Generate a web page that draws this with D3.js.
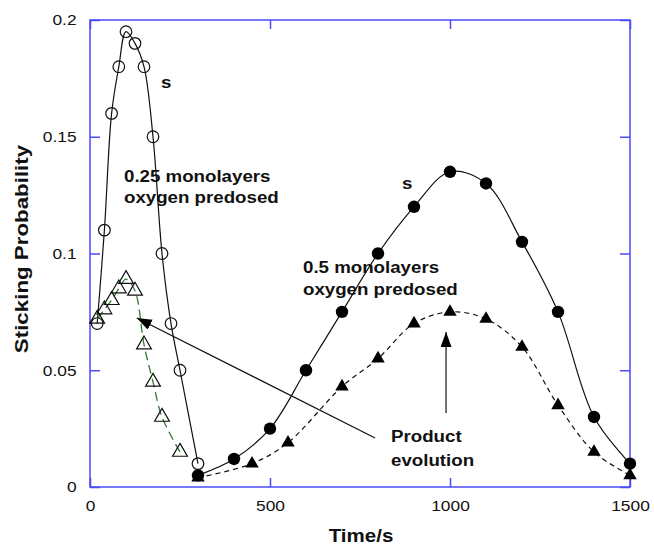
<!DOCTYPE html>
<html><head><meta charset="utf-8">
<script src="https://cdn.jsdelivr.net/npm/d3@7"></script>
<style>body{margin:0;background:#fff}svg{display:block}text{font-family:Arial,"Liberation Sans",sans-serif}</style>
</head><body>
<script>
// ---- data ----
const xTicks = [0, 500, 1000, 1500];
const yTicks = [0, 0.05, 0.1, 0.15, 0.2];
const yTickLabels = ["0", "0.05", "0.1", "0.15", "0.2"];

// 0.25 ML oxygen predosed: sticking probability (open circles)
const lowTime = [20, 40, 60, 80, 100, 125, 150, 175, 200, 225, 250, 300];
const lowStick = [0.07, 0.11, 0.16, 0.18, 0.195, 0.19, 0.18, 0.15, 0.10, 0.07, 0.05, 0.01];
// 0.25 ML product evolution (open triangles)
const lowProdTime = [20, 40, 60, 80, 100, 125, 150, 175, 200, 250];
const lowProd = [0.072, 0.076, 0.080, 0.085, 0.089, 0.084, 0.061, 0.045, 0.030, 0.015];

// 0.5 ML oxygen predosed: sticking probability (filled circles)
const highTime = [300, 400, 500, 600, 700, 800, 900, 1000, 1100, 1200, 1300, 1400, 1500];
const highStick = [0.005, 0.012, 0.025, 0.05, 0.075, 0.10, 0.12, 0.135, 0.13, 0.105, 0.075, 0.03, 0.01];
// 0.5 ML product evolution (filled triangles)
const highProdTime = [300, 450, 550, 700, 800, 900, 1000, 1100, 1200, 1300, 1400, 1500];
const highProd = [0.004, 0.01, 0.019, 0.043, 0.055, 0.07, 0.075, 0.072, 0.06, 0.035, 0.015, 0.005];

// annotation arrows [x1,y1,x2,y2] in data units (tail -> tip)
const arrows = [[792, 0.021, 130, 0.0724], [989, 0.0317, 989, 0.0664]];

// ---- layout ----
const W = 654, H = 545;
const L = 90, R = 630, T = 20, B = 487;
const SX = 1.12;
const svg = d3.select("body").append("svg").attr("width", W).attr("height", H);
const x = d3.scaleLinear().domain([0, 1500]).range([L, R]);
const y = d3.scaleLinear().domain([0, 0.2]).range([B, T]);
const axisColor = "#4b4bf5";

// frame
svg.append("rect").attr("x", L).attr("y", T).attr("width", R - L).attr("height", B - T)
  .attr("fill", "none").attr("stroke", axisColor).attr("stroke-width", 1.5);

// axes with inward ticks
function styleAxis(g, hideText) {
  g.select(".domain").remove();
  g.selectAll(".tick line").attr("stroke", axisColor).attr("stroke-width", 1.5);
  if (hideText) g.selectAll(".tick text").remove();
  else g.selectAll(".tick text").attr("fill", "#111").style("font-size", "15.5px");
}
const gx = svg.append("g").attr("transform", `translate(0,${B})`)
  .call(d3.axisBottom(x).tickValues(xTicks).tickSizeInner(-9).tickSizeOuter(0).tickPadding(13).tickFormat(d3.format("d")));
styleAxis(gx, false);
gx.selectAll(".tick text").attr("transform", `scale(${SX},1)`);
const gxt = svg.append("g").attr("transform", `translate(0,${T})`)
  .call(d3.axisTop(x).tickValues(xTicks).tickSizeInner(-9).tickSizeOuter(0));
styleAxis(gxt, true);
const gy = svg.append("g").attr("transform", `translate(${L},0)`)
  .call(d3.axisLeft(y).tickValues(yTicks).tickSizeInner(-10).tickSizeOuter(0).tickPadding(12)
    .tickFormat((d, i) => yTickLabels[i]));
styleAxis(gy, false);
gy.selectAll(".tick text").attr("transform", `scale(${SX},1)`);
const gyr = svg.append("g").attr("transform", `translate(${R},0)`)
  .call(d3.axisRight(y).tickValues(yTicks).tickSizeInner(-10).tickSizeOuter(0));
styleAxis(gyr, true);

// axis titles
svg.append("text").attr("transform", `translate(${(L + R) / 2 + 1},542) scale(1.14,1)`)
  .attr("text-anchor", "middle").style("font-size", "18px").style("font-weight", "bold").attr("fill", "#111").text("Time/s");
svg.append("text").attr("transform", `translate(28,249) rotate(-90) scale(1.24,1)`)
  .attr("text-anchor", "middle").style("font-size", "18px").style("font-weight", "bold").attr("fill", "#111").text("Sticking Probability");

// curves
const zip = (a, b) => a.map((v, i) => [v, b[i]]);
const line = d3.line().x(d => x(d[0])).y(d => y(d[1])).curve(d3.curveCatmullRom.alpha(0.5));
const plot = svg.append("g");
plot.append("path").attr("d", line(zip(lowTime, lowStick))).attr("fill", "none").attr("stroke", "#111").attr("stroke-width", 1.2);
plot.append("path").attr("d", line(zip(lowProdTime, lowProd))).attr("fill", "none").attr("stroke", "#2f7a2f")
  .attr("stroke-width", 1.3).attr("stroke-dasharray", "9,5");
plot.append("path").attr("d", line(zip(highTime, highStick))).attr("fill", "none").attr("stroke", "#111").attr("stroke-width", 1.2);
plot.append("path").attr("d", line(zip(highProdTime, highProd))).attr("fill", "none").attr("stroke", "#111")
  .attr("stroke-width", 1.2).attr("stroke-dasharray", "5,4");

// markers
const tri = d3.symbol().type(d3.symbolTriangle);
plot.selectAll(".oc").data(zip(lowTime, lowStick)).join("circle")
  .attr("cx", d => x(d[0])).attr("cy", d => y(d[1])).attr("r", 5.8)
  .attr("fill", "none").attr("stroke", "#111").attr("stroke-width", 1.2);
plot.selectAll(".ot").data(zip(lowProdTime, lowProd)).join("path")
  .attr("transform", d => `translate(${x(d[0])},${y(d[1])})`).attr("d", tri.size(95)())
  .attr("fill", "none").attr("stroke", "#111").attr("stroke-width", 1.2);
plot.selectAll(".fc").data(zip(highTime, highStick)).join("circle")
  .attr("cx", d => x(d[0])).attr("cy", d => y(d[1])).attr("r", 6.2).attr("fill", "#000");
plot.selectAll(".ft").data(zip(highProdTime, highProd)).join("path")
  .attr("transform", d => `translate(${x(d[0])},${y(d[1])})`).attr("d", tri.size(78)()).attr("fill", "#000");

// arrows
svg.append("defs").append("marker").attr("id", "ah").attr("markerUnits", "userSpaceOnUse")
  .attr("markerWidth", 16).attr("markerHeight", 12).attr("refX", 15).attr("refY", 5.5).attr("orient", "auto")
  .append("path").attr("d", "M0,0 L15,5.5 L0,11 Z").attr("fill", "#000");
arrows.forEach(a => {
  svg.append("line").attr("x1", x(a[0])).attr("y1", y(a[1])).attr("x2", x(a[2])).attr("y2", y(a[3]))
    .attr("stroke", "#111").attr("stroke-width", 1.2).attr("marker-end", "url(#ah)");
});

// labels
function label(tx, ty, str, fs) {
  svg.append("text").attr("transform", `translate(${tx},${ty}) scale(1.1,1)`)
    .style("font-size", (fs || 17) + "px").style("font-weight", "bold").attr("fill", "#111").text(str);
}
label(161, 88, "s");
label(402, 189, "s");
label(124, 181.5, "0.25 monolayers");
label(124, 203, "oxygen predosed");
label(303, 273, "0.5 monolayers");
label(303, 295, "oxygen predosed");
label(391, 442, "Product");
label(391, 466, "evolution");
</script>
</body></html>
